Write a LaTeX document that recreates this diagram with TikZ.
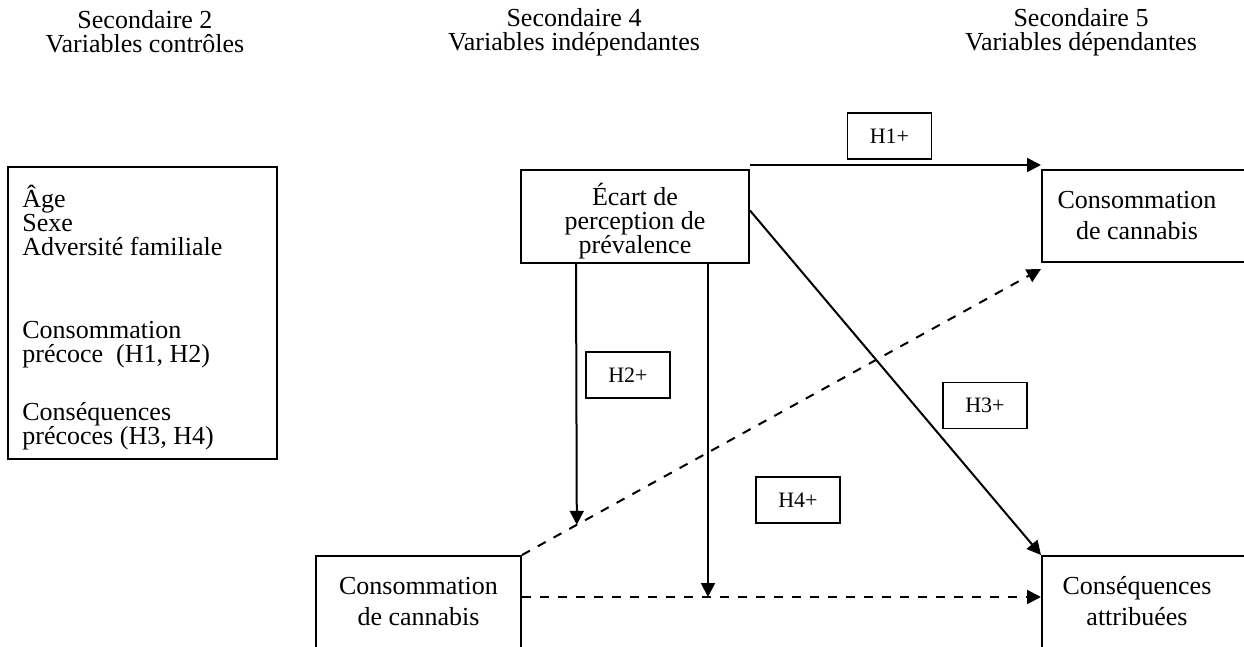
\documentclass[tikz,border=0pt]{standalone}
\usepackage{fontspec}
\setmainfont{Liberation Serif}
\usetikzlibrary{arrows.meta,calc}

\begin{document}
\begin{tikzpicture}[x=0.5pt, y=-0.5pt,
  every node/.style={inner sep=0pt},
  txt/.style={align=center, font=\fontsize{13pt}{12pt}\selectfont},
  wide/.style={align=center, font=\fontsize{13pt}{15.5pt}\selectfont},
  varbox/.style={draw, line width=1pt, minimum width=114pt, minimum height=46pt},
  hypbox/.style={draw, line width=0.6pt, minimum width=42pt, minimum height=23pt, font=\fontsize{11pt}{13pt}\selectfont},
  arr/.style={-{Triangle[length=7pt,width=7pt]}, line width=1pt},
  darr/.style={arr, dash pattern=on 4.5pt off 4.5pt}]
  \useasboundingbox (0,0) rectangle (1244,647);
  \clip (0,0) rectangle (1244,647);

  % en-tetes des colonnes
  \node[txt] (sec2) at (145,32) {Secondaire 2\\Variables contrôles};
  \node[txt] (sec4) at (574,32) {Secondaire 4\\Variables indépendantes};
  \node[txt] (sec5) at (1081,32) {Secondaire 5\\Variables dépendantes};

  % variables controles
  \node[varbox, minimum width=134.5pt, minimum height=146pt] (ctrl) at (142.5,313) {};
  \node[txt, align=left, anchor=north west] (ctrltxt) at (22,185)
    {Âge\\Sexe\\Adversité familiale\\[29.5pt]Consommation\\précoce~ (H1, H2)\\[17pt]Conséquences\\précoces (H3, H4)};

  % variables independantes
  \node[varbox, minimum height=46.5pt] (ecart) at (635,216.5) {};
  \node[txt] (ecarttxt) at (635,221) {Écart de\\perception de\\prévalence};
  \node[varbox, wide, minimum width=102.5pt] (cons4) at (418.5,602) {Consommation\\de cannabis};

  % variables dependantes (coupees par le bord)
  \node[varbox] (conso5) at (1156,216) {};
  \node[wide] (conso5txt) at (1137,216) {Consommation\\de cannabis};
  \node[varbox] (csq) at (1156,602) {};
  \node[wide] (csqtxt) at (1137,601) {Conséquences\\attribuées};

  % hypotheses
  \node[hypbox] (h1) at (889.5,136) {H1+};
  \node[hypbox] (h2) at (628,375) {H2+};
  \node[hypbox] (h3) at (985,405.5) {H3+};
  \node[hypbox] (h4) at (798,500) {H4+};

  % liens
  \coordinate (tipc) at ([yshift=-3pt]conso5.south west);
  \coordinate (mid2) at ($(cons4.north east)!0.1056!(tipc)$);
  \coordinate (dashL) at ([yshift=2.5pt]cons4.east);
  \draw[arr] ([yshift=2pt]ecart.north east) -- ([yshift=2pt]conso5.north west);
  \draw[arr] ([yshift=3pt]ecart.east) -- (csq.north west);
  \draw[darr] (cons4.north east) -- (tipc);
  \draw[darr] (dashL) -- (dashL -| csq.west);
  \draw[arr] ([xshift=-29.5pt]ecart.south) -- (mid2);
  \draw[arr] ([xshift=36.5pt]ecart.south) -- ([xshift=36.5pt]ecart.south |- dashL);
\end{tikzpicture}
\end{document}
